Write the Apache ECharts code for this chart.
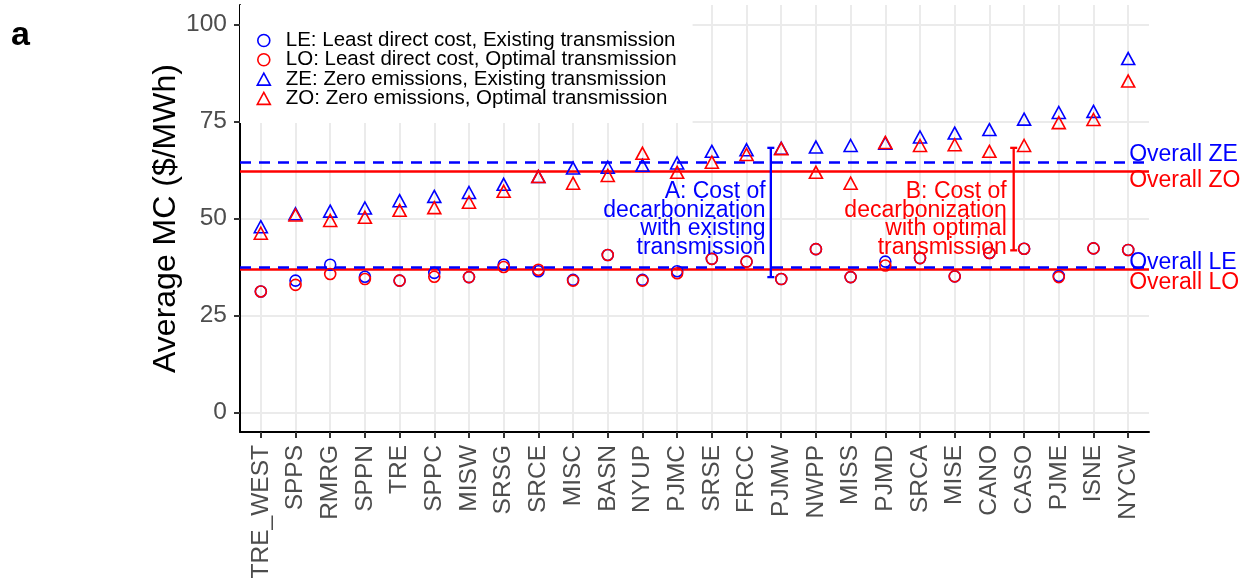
<!DOCTYPE html>
<html>
<head>
<meta charset="utf-8">
<script src="https://cdn.jsdelivr.net/npm/echarts@6/dist/echarts.min.js"></script>
<style>html,body{margin:0;padding:0;background:#fff}#c{width:1248px;height:588px}</style>
</head>
<body>
<div id="c"></div>
<script>
const categories = ['TRE_WEST','SPPS','RMRG','SPPN','TRE','SPPC','MISW','SRSG','SRCE','MISC','BASN','NYUP','PJMC','SRSE','FRCC','PJMW','NWPP','MISS','PJMD','SRCA','MISE','CANO','CASO','PJME','ISNE','NYCW'];
const LE = [31.2,34.0,38.1,35.0,34.0,36.0,34.9,38.1,36.4,34.2,40.6,34.2,36.4,39.6,38.9,34.4,42.1,34.9,38.9,39.8,35.1,41.1,42.2,35.2,42.3,41.9];
const LO = [31.2,32.9,35.7,34.4,34.0,35.0,34.9,37.5,36.8,34.0,40.6,34.0,35.9,39.6,38.9,34.4,42.1,34.9,37.9,39.8,35.1,41.1,42.2,34.9,42.3,41.9];
const ZE = [47.9,51.2,51.9,52.7,54.6,55.7,56.7,58.8,60.8,63.0,63.2,63.7,64.3,67.3,67.7,68.1,68.4,68.8,69.4,71.0,72.0,72.9,75.6,77.3,77.6,91.2];
const ZO = [46.2,50.9,49.5,50.3,52.1,52.8,54.2,57.0,60.8,59.1,61.1,66.8,61.9,64.5,66.5,68.0,61.9,59.1,69.6,68.8,69.0,67.3,68.8,74.7,75.5,85.4];
const seriesNames = ['LE: Least direct cost, Existing transmission','LO: Least direct cost, Optimal transmission','ZE: Zero emissions, Existing transmission','ZO: Zero emissions, Optimal transmission'];
const overallNames = ['Overall ZE','Overall ZO','Overall LE','Overall LO'];
const overallValues = [64.6, 62.1, 37.4, 36.9];
const yTicks = [0,25,50,75,100];
// bracket annotations: [x position (category index units), low, high]
const bracketData = [[14.7, 34.9, 68.2],[21.7, 41.8, 68.2]];
const annotationTexts = ['A: Cost of\ndecarbonization\nwith existing\ntransmission','B: Cost of\ndecarbonization\nwith optimal\ntransmission'];
const annotationPos = [[14.55, 49.7],[21.5, 49.7]];

const BLUE = '#0000ff', RED = '#ff0000';
const FONT = '"Liberation Sans", Arial, Helvetica, sans-serif';
const catIdx = categories.map((_, i) => i);

function pts(vals){ return vals.map((v,i)=>[i,v]); }

const chart = echarts.init(document.getElementById('c'), null, {renderer:'canvas'});
const overallStyles = [
  {color: BLUE, type: [11, 8], off: -7},
  {color: RED, type: 'solid', off: 9},
  {color: BLUE, type: [11, 8], off: -5},
  {color: RED, type: 'solid', off: 13}
];
const mk = (c) => ({color: 'transparent', borderColor: c, borderWidth: 1.6, opacity: 1});
const option = {
  animation: false,
  textStyle: {fontFamily: FONT},
  title: {text: 'a', left: 6, top: 14, textStyle: {fontSize: 34, fontWeight: 'bold', color: '#000', fontFamily: FONT}},
  grid: {left: 240, right: 99, top: 5, bottom: 156, containLabel: false, outerBoundsMode: 'none'},
  legend: {
    orient: 'vertical', left: 240, top: 5, z: 10,
    padding: [25, 16, 14, 16.5],
    backgroundColor: '#ffffff',
    itemWidth: 13, itemHeight: 12, itemGap: -1.7,
    symbolKeepAspect: true,
    textStyle: {fontSize: 20.5, color: '#000', lineHeight: 19, padding: [0, 0, 0, 10.5], fontFamily: FONT},
    data: [
      {name: seriesNames[0], icon: 'circle', itemStyle: mk(BLUE)},
      {name: seriesNames[1], icon: 'circle', itemStyle: mk(RED)},
      {name: seriesNames[2], icon: 'triangle', itemStyle: mk(BLUE)},
      {name: seriesNames[3], icon: 'triangle', itemStyle: mk(RED)}
    ]
  },
  xAxis: {
    type: 'value', min: -0.6, max: 25.6,
    axisLine: {show: true, onZero: false, lineStyle: {color: '#000', width: 2}},
    axisTick: {show: true, customValues: catIdx, length: 6, lineStyle: {color: '#333', width: 2}},
    axisLabel: {customValues: catIdx, rotate: 90, margin: 13, fontSize: 24.5, color: '#4d4d4d', fontFamily: FONT,
      hideOverlap: false,
      formatter: v => categories[Math.round(v)] || ''},
    splitLine: {show: false}
  },
  yAxis: {
    type: 'value', min: -5, max: 105,
    name: 'Average MC ($/MWh)', nameLocation: 'middle', nameGap: 58, nameMoveOverlap: false,
    nameTextStyle: {fontSize: 32, color: '#000', fontFamily: FONT},
    axisLine: {show: true, onZero: false, lineStyle: {color: '#000', width: 2}},
    axisTick: {show: true, customValues: yTicks, length: 6, lineStyle: {color: '#333', width: 2}},
    axisLabel: {customValues: yTicks, margin: 13, fontSize: 24.5, color: '#4d4d4d', fontFamily: FONT},
    splitLine: {show: false}
  },
  series: [
    {
      name: 'grid', type: 'scatter', data: [], z: 0, silent: true,
      markLine: {
        silent: true, symbol: 'none', animation: false, z: 0,
        label: {show: false},
        lineStyle: {color: '#ebebeb', width: 2, type: 'solid', opacity: 1},
        data: catIdx.map(i => ({xAxis: i})).concat(yTicks.map(v => ({yAxis: v})))
      }
    },
    {
      name: 'overall', type: 'scatter', data: [], z: 1, silent: true,
      markLine: {
        silent: true, symbol: 'none', animation: false, z: 1,
        label: {show: false},
        data: overallValues.map((v, i) => ({yAxis: v, lineStyle: {color: overallStyles[i].color, type: overallStyles[i].type, width: 2.5, opacity: 1}})).reverse()
      }
    },
    {name: seriesNames[0], type: 'scatter', symbol: 'circle', symbolSize: 11, z: 3,
      itemStyle: mk(BLUE), data: pts(LE)},
    {name: seriesNames[1], type: 'scatter', symbol: 'circle', symbolSize: 11, z: 3,
      itemStyle: mk(RED), data: pts(LO)},
    {name: seriesNames[2], type: 'scatter', symbol: 'triangle', symbolSize: [13, 12], z: 3,
      itemStyle: mk(BLUE), data: pts(ZE)},
    {name: seriesNames[3], type: 'scatter', symbol: 'triangle', symbolSize: [13, 12], z: 3,
      itemStyle: mk(RED), data: pts(ZO)},
    {
      name: 'brackets', type: 'custom', z: 3, silent: true,
      data: bracketData.map((d, i) => ({value: d, itemStyle: {color: i === 0 ? BLUE : RED}})),
      renderItem: function(params, api){
        const x = api.value(0), lo = api.value(1), hi = api.value(2);
        const a = api.coord([x, lo]), b = api.coord([x, hi]);
        const col = api.visual('color');
        const st = {stroke: col, lineWidth: 2.3};
        const cap = 3.5;
        return {type: 'group', children: [
          {type: 'line', shape: {x1: a[0], y1: a[1], x2: b[0], y2: b[1]}, style: st},
          {type: 'line', shape: {x1: a[0]-cap, y1: a[1], x2: a[0]+cap, y2: a[1]}, style: st},
          {type: 'line', shape: {x1: b[0]-cap, y1: b[1], x2: b[0]+cap, y2: b[1]}, style: st}
        ]};
      }
    },
    {
      name: 'annotations', type: 'scatter', symbolSize: 0, z: 4, silent: true,
      itemStyle: {opacity: 1},
      data: annotationPos.map((p, i) => ({
        value: p,
        label: {show: true, position: 'left', distance: 0, formatter: annotationTexts[i], align: 'right',
          color: i === 0 ? BLUE : RED, fontSize: 23, lineHeight: 18.4, fontFamily: FONT}
      }))
    },
    {
      name: 'overallLabels', type: 'scatter', symbolSize: 0, z: 4, silent: true,
      itemStyle: {opacity: 1},
      data: overallValues.map((v, i) => ({
        value: [25, v],
        label: {show: true, position: 'right', distance: 1, offset: [0, overallStyles[i].off], formatter: overallNames[i],
          color: overallStyles[i].color, fontSize: 23, fontFamily: FONT}
      }))
    }
  ]
};
chart.setOption(option);
</script>
</body>
</html>
